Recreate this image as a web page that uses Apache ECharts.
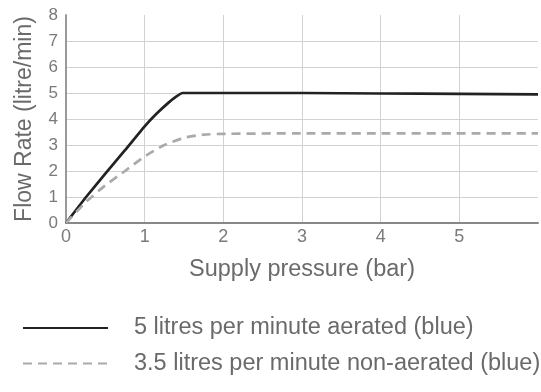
<!DOCTYPE html>
<html><head><meta charset="utf-8">
<script src="https://cdn.jsdelivr.net/npm/echarts@6/dist/echarts.min.js"></script>
<style>html,body{margin:0;padding:0;background:#fff}#c{width:541px;height:392px}</style>
</head><body><div id="c"></div>
<script>
const xTicks = [0, 1, 2, 3, 4, 5];
const yTicks = [0, 1, 2, 3, 4, 5, 6, 7, 8];
const aeratedX = [0, 0.25, 0.5, 0.75, 1.0, 1.15, 1.3, 1.4, 1.48, 2, 3, 4, 5, 6];
const aeratedY = [0, 0.98, 1.9, 2.8, 3.72, 4.2, 4.62, 4.86, 5.0, 5.0, 5.0, 4.98, 4.97, 4.95];
const nonAeratedX = [0, 0.25, 0.5, 0.75, 1.0, 1.25, 1.5, 1.75, 2, 3, 4, 5, 6];
const nonAeratedY = [0, 0.8, 1.45, 2.0, 2.56, 3.0, 3.28, 3.4, 3.43, 3.45, 3.45, 3.45, 3.45];
const seriesNames = ['5 litres per minute aerated (blue)', '3.5 litres per minute non-aerated (blue)'];

const font = '"Liberation Sans", Arial, Helvetica, sans-serif';
const chart = echarts.init(document.getElementById('c'), null, {renderer: 'canvas'});
chart.setOption({
  animation: false,
  backgroundColor: '#fff',
  textStyle: {fontFamily: font},
  grid: {left: 66, right: 0, top: 15, bottom: 169},
  legend: {
    orient: 'vertical', left: 17, top: 311, itemWidth: 85, itemHeight: 14, itemGap: 11.5,
    data: seriesNames,
    itemStyle: {color: 'transparent', borderWidth: 0, opacity: 0},
    textStyle: {fontFamily: font, fontSize: 23.5, color: '#6a6a6a', padding: [0, 0, 0, 21]}
  },
  xAxis: {
    type: 'value', min: 0, max: 6, interval: 1,
    name: 'Supply pressure (bar)', nameLocation: 'middle', nameGap: 35,
    nameTextStyle: {fontFamily: font, fontSize: 23.5, color: '#6a6a6a'},
    axisLine: {lineStyle: {color: '#888', width: 2}},
    axisTick: {show: false},
    axisLabel: {fontSize: 18, color: '#7a7a7a', margin: 5, formatter: v => xTicks.includes(v) ? String(v) : ''},
    splitLine: {show: true, showMaxLine: false, lineStyle: {color: '#d2d2d2', width: 1}}
  },
  yAxis: {
    type: 'value', min: 0, max: 8, interval: 1,
    name: 'Flow Rate (litre/min)', nameLocation: 'middle', nameGap: 30,
    nameTextStyle: {fontFamily: font, fontSize: 23, color: '#6a6a6a'},
    axisLine: {show: true, lineStyle: {color: '#999', width: 2}},
    axisTick: {show: false},
    axisLabel: {fontSize: 17, color: '#7a7a7a', margin: 8, formatter: v => yTicks.includes(v) ? String(v) : ''},
    splitLine: {show: true, showMaxLine: false, lineStyle: {color: '#d2d2d2', width: 1}}
  },
  series: [
    {
      name: seriesNames[0], type: 'line', symbol: 'none', smooth: 0.15,
      data: aeratedX.map((x, i) => [x, aeratedY[i]]),
      lineStyle: {color: '#222', width: 2.7}, itemStyle: {color: '#222'}
    },
    {
      name: seriesNames[1], type: 'line', symbol: 'none', smooth: 0.15,
      data: nonAeratedX.map((x, i) => [x, nonAeratedY[i]]),
      lineStyle: {color: '#aaaaaa', width: 2.7, type: [9, 6]}, itemStyle: {color: '#aaaaaa'}
    }
  ]
});
</script></body></html>
